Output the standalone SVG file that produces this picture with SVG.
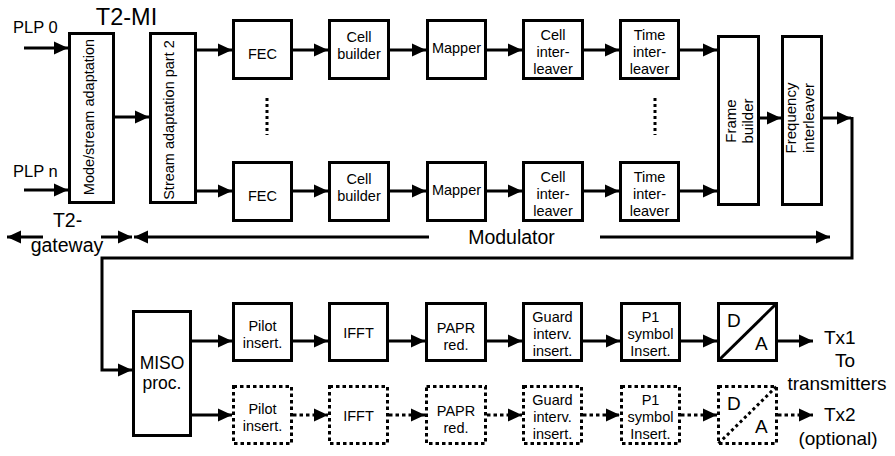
<svg xmlns="http://www.w3.org/2000/svg" width="895" height="456" viewBox="0 0 895 456">
<style>
text{font-family:"Liberation Sans",Arial,sans-serif;fill:#000}
.box{fill:#fff;stroke:#000;stroke-width:3}
.dbox{fill:#fff;stroke:#000;stroke-width:3;stroke-dasharray:3.5 3}
.ln{fill:none;stroke:#000;stroke-width:3;marker-end:url(#ah)}
.dln{fill:none;stroke:#000;stroke-width:3;stroke-dasharray:3.5 3;marker-end:url(#ah)}
.pl{fill:none;stroke:#000;stroke-width:3}
.t{font-size:14.5px;text-anchor:middle}
.v{font-size:14.5px;text-anchor:middle}
.vf{font-size:15px;text-anchor:middle}
.big{font-size:19.5px;text-anchor:middle}
.tx{font-size:19px}
.dots{fill:none;stroke:#000;stroke-width:3;stroke-dasharray:3 3}
</style>
<defs>
<marker id="ah" markerUnits="userSpaceOnUse" markerWidth="14" markerHeight="13" refX="14" refY="6.5" orient="auto" overflow="visible">
<path d="M0,0 L14,6.5 L0,13 z" fill="#000"/>
</marker>
</defs>

<g id="connectors">
<path class="ln" d="M24,48 H68"/>
<path class="ln" d="M24,190 H68"/>
<path class="ln" d="M115,117 H149"/>
<path class="ln" d="M197,50 H232"/>
<path class="ln" d="M197,191 H232"/>
<path class="ln" d="M293,50 H328"/>
<path class="ln" d="M390,50 H426"/>
<path class="ln" d="M487,50 H522"/>
<path class="ln" d="M584,50 H619"/>
<path class="ln" d="M680,50 H717"/>
<path class="ln" d="M293,191 H328"/>
<path class="ln" d="M390,191 H426"/>
<path class="ln" d="M487,191 H522"/>
<path class="ln" d="M584,191 H619"/>
<path class="ln" d="M680,191 H717"/>
<path class="ln" d="M760,118 H781"/>
<path class="ln" d="M823,118 H851"/>
<path class="ln" d="M852,117 V258 H102 V370 H132"/>
<path class="ln" d="M43,237 H7"/>
<path class="ln" d="M101,237 H132"/>
<path class="ln" d="M429,237 H134"/>
<path class="ln" d="M600,237 H830"/>
<path class="dots" d="M267,98 V135"/>
<path class="dots" d="M655,98 V135"/>
<path class="ln" d="M192,341 H232"/>
<path class="ln" d="M293,341 H328"/>
<path class="ln" d="M389,341 H425"/>
<path class="ln" d="M487,341 H522"/>
<path class="ln" d="M583,341 H620"/>
<path class="ln" d="M681,341 H717"/>
<path class="ln" d="M778,341 H813"/>
<path class="ln" d="M192,415 H232"/>
<path class="dln" d="M293,415 H328"/>
<path class="dln" d="M389,415 H425"/>
<path class="dln" d="M487,415 H522"/>
<path class="dln" d="M583,415 H620"/>
<path class="dln" d="M681,415 H717"/>
<path class="dln" d="M778,415 H813"/>
</g>

<g id="labels">
<text x="126.5" y="25" style="font-size:23.5px;text-anchor:middle">T2-MI</text>
<text x="13" y="32.5" style="font-size:16.5px">PLP 0</text>
<text x="13" y="177" style="font-size:16.5px">PLP n</text>
<text x="67.5" y="227" class="big">T2-</text>
<text x="67" y="252" class="big">gateway</text>
<text x="511.5" y="244" class="big">Modulator</text>
<text x="824" y="344" class="tx">Tx1</text>
<text x="845" y="367" class="tx" text-anchor="middle">To</text>
<text x="837" y="390" class="tx" text-anchor="middle">transmitters</text>
<text x="824" y="421" class="tx">Tx2</text>
<text x="838" y="445" class="tx" text-anchor="middle">(optional)</text>
</g>

<g id="mode-stream">
<rect class="box" x="69.5" y="33.5" width="44" height="169"/>
<text class="v" transform="translate(93.5,117) rotate(-90)">Mode/stream adaptation</text>
</g>
<g id="stream-adapt2">
<rect class="box" x="150.5" y="33.5" width="45" height="169"/>
<text class="v" transform="translate(173.5,120) rotate(-90)">Stream adaptation part 2</text>
</g>

<g id="fec-0"><rect class="box" x="233.5" y="20.5" width="58" height="58"/><text class="t" x="262.5" y="59">FEC</text></g>
<g id="cellbuilder-0"><rect class="box" x="329.5" y="20.5" width="59" height="58"/><text class="t" x="359" y="42">Cell</text><text class="t" x="359" y="59">builder</text></g>
<g id="mapper-0"><rect class="box" x="427.5" y="20.5" width="58" height="58"/><text class="t" x="456.5" y="53">Mapper</text></g>
<g id="cellint-0"><rect class="box" x="523.5" y="20.5" width="59" height="58"/><text class="t" x="553" y="40">Cell</text><text class="t" x="553" y="57">inter-</text><text class="t" x="553" y="74">leaver</text></g>
<g id="timeint-0"><rect class="box" x="620.5" y="20.5" width="58" height="58"/><text class="t" x="649.5" y="40">Time</text><text class="t" x="649.5" y="57">inter-</text><text class="t" x="649.5" y="74">leaver</text></g>

<g id="fec-n"><rect class="box" x="233.5" y="162.5" width="58" height="58"/><text class="t" x="262.5" y="201">FEC</text></g>
<g id="cellbuilder-n"><rect class="box" x="329.5" y="162.5" width="59" height="58"/><text class="t" x="359" y="184">Cell</text><text class="t" x="359" y="201">builder</text></g>
<g id="mapper-n"><rect class="box" x="427.5" y="162.5" width="58" height="58"/><text class="t" x="456.5" y="195">Mapper</text></g>
<g id="cellint-n"><rect class="box" x="523.5" y="162.5" width="59" height="58"/><text class="t" x="553" y="182">Cell</text><text class="t" x="553" y="199">inter-</text><text class="t" x="553" y="216">leaver</text></g>
<g id="timeint-n"><rect class="box" x="620.5" y="162.5" width="58" height="58"/><text class="t" x="649.5" y="182">Time</text><text class="t" x="649.5" y="199">inter-</text><text class="t" x="649.5" y="216">leaver</text></g>

<g id="frame-builder">
<rect class="box" x="718.5" y="36.5" width="40" height="168"/>
<text class="vf" transform="translate(736,121) rotate(-90)">Frame</text>
<text class="vf" transform="translate(753,121) rotate(-90)">builder</text>
</g>
<g id="freq-interleaver">
<rect class="box" x="782.5" y="36.5" width="39" height="168"/>
<text class="vf" transform="translate(796,118) rotate(-90)">Frequency</text>
<text class="vf" transform="translate(814,118) rotate(-90)">interleaver</text>
</g>

<g id="miso">
<rect class="box" x="133.5" y="311.5" width="57" height="124"/>
<text x="162" y="369" style="font-size:17.5px;text-anchor:middle">MISO</text>
<text x="162" y="389" style="font-size:17.5px;text-anchor:middle">proc.</text>
</g>

<g id="pilot-1"><rect class="box" x="233.5" y="303.5" width="58" height="57"/><text class="t" x="262.5" y="331">Pilot</text><text class="t" x="262.5" y="348">insert.</text></g>
<g id="ifft-1"><rect class="box" x="329.5" y="303.5" width="58" height="57"/><text class="t" x="358.5" y="338">IFFT</text></g>
<g id="papr-1"><rect class="box" x="426.5" y="303.5" width="59" height="57"/><text class="t" x="456" y="333">PAPR</text><text class="t" x="456" y="350">red.</text></g>
<g id="guard-1"><rect class="box" x="523.5" y="303.5" width="58" height="57"/><text class="t" x="552.5" y="322">Guard</text><text class="t" x="552.5" y="339">interv.</text><text class="t" x="552.5" y="356">insert.</text></g>
<g id="p1-1"><rect class="box" x="621.5" y="303.5" width="58" height="57"/><text class="t" x="650.5" y="322">P1</text><text class="t" x="650.5" y="339">symbol</text><text class="t" x="650.5" y="356">Insert.</text></g>
<g id="da-1"><rect class="box" x="718.5" y="303.5" width="58" height="57"/><path class="pl" d="M718.5,360.5 L776.5,303.5"/><text x="727" y="327" style="font-size:19px">D</text><text x="755" y="350" style="font-size:19px">A</text></g>

<g id="pilot-2"><rect class="dbox" x="233.5" y="386.5" width="58" height="57"/><text class="t" x="262.5" y="414">Pilot</text><text class="t" x="262.5" y="431">insert.</text></g>
<g id="ifft-2"><rect class="dbox" x="329.5" y="386.5" width="58" height="57"/><text class="t" x="358.5" y="421">IFFT</text></g>
<g id="papr-2"><rect class="dbox" x="426.5" y="386.5" width="59" height="57"/><text class="t" x="456" y="416">PAPR</text><text class="t" x="456" y="433">red.</text></g>
<g id="guard-2"><rect class="dbox" x="523.5" y="386.5" width="58" height="57"/><text class="t" x="552.5" y="405">Guard</text><text class="t" x="552.5" y="422">interv.</text><text class="t" x="552.5" y="439">insert.</text></g>
<g id="p1-2"><rect class="dbox" x="621.5" y="386.5" width="58" height="57"/><text class="t" x="650.5" y="405">P1</text><text class="t" x="650.5" y="422">symbol</text><text class="t" x="650.5" y="439">Insert.</text></g>
<g id="da-2"><rect class="dbox" x="718.5" y="386.5" width="58" height="57"/><path class="dots" d="M718.5,443.5 L776.5,386.5"/><text x="727" y="410" style="font-size:19px">D</text><text x="755" y="433" style="font-size:19px">A</text></g>
</svg>
